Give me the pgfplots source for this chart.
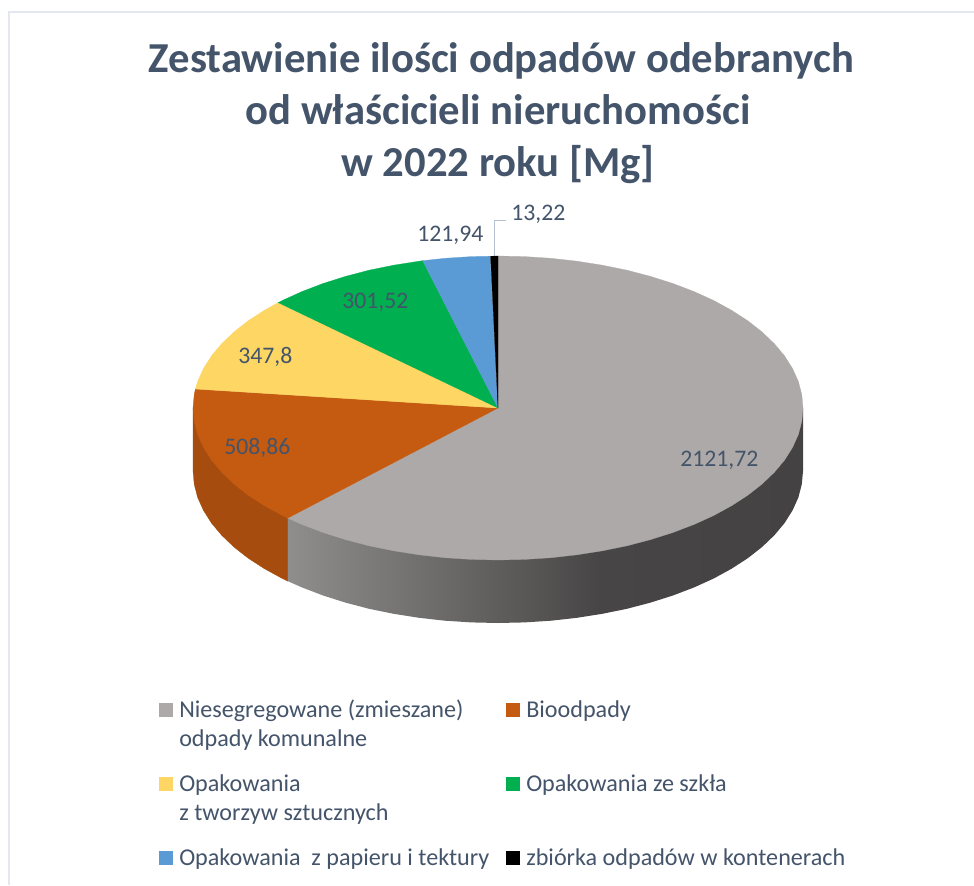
\documentclass[border=0pt]{standalone}
\usepackage{pgfplots}
\pgfplotsset{compat=1.18}
\usepackage{fontspec}
\setmainfont{Carlito}
\definecolor{txt}{HTML}{44546A}
\definecolor{cgrey}{HTML}{ADA9A8}
\definecolor{corange}{HTML}{C55A11}
\definecolor{corangew}{HTML}{A54C0E}
\definecolor{cyellow}{HTML}{FDD663}
\definecolor{cgreen}{HTML}{00B050}
\definecolor{cblue}{HTML}{5B9BD5}
\definecolor{frame}{HTML}{E4E8EE}
\definecolor{lead}{HTML}{B4C0D0}
\definecolor{gw1}{HTML}{8F8E8D}
\definecolor{gw2}{HTML}{5F5D5C}
\definecolor{gw3}{HTML}{484546}
\definecolor{gw4}{HTML}{454243}
\pgfdeclarehorizontalshading{greywall}{100bp}{color(0bp)=(gw1); color(25bp)=(gw1); color(45.6bp)=(gw2); color(55.3bp)=(gw3); color(75bp)=(gw4); color(100bp)=(gw4)}
\newcommand{\lab}[3]{\node[anchor=base west,inner sep=0pt,text=txt,font=\fontsize{17.8}{20}\selectfont] at (axis cs:#1,#2) {#3};}
\newcommand{\leg}[3]{\node[anchor=base west,inner sep=0pt,text=txt,font=\fontsize{18.1}{20}\selectfont] at (axis cs:#1,#2) {#3};}
\newcommand{\ttl}[3]{\node[anchor=base,inner sep=0pt,text=txt,font=\fontsize{32}{36}\selectfont\bfseries] at (axis cs:#1,#2) {#3};}
% values [Mg]: 2121,72; 508,86; 347,8; 301,52; 121,94; 13,22
\begin{document}
\begin{tikzpicture}
\begin{axis}[scale only axis,width=730.5pt,height=663.75pt,xmin=0,xmax=974,ymin=0,ymax=885,y dir=reverse,axis lines=none,clip=true]
\addplot[fill=white,draw=none,forget plot] coordinates {(0,0)(974,0)(974,885)(0,885)};
\addplot[draw=frame,line width=1.2pt,forget plot] coordinates {(974,12)(9,12)(9,885)};
% side walls
\addplot[draw=none,shading=greywall,forget plot] coordinates {(803,408)(803,471)(801.8,484.2)(798.4,497.4)(792.6,510.3)(784.6,523)(774.4,535.2)(762.1,547)(747.8,558.2)(731.6,568.7)(713.7,578.5)(694.1,587.4)(672.9,595.5)(650.5,602.6)(626.9,608.8)(602.3,613.8)(576.9,617.8)(551,620.7)(524.6,622.4)(498,623)(471.4,622.4)(445,620.7)(419.1,617.8)(393.7,613.8)(369.1,608.8)(345.5,602.6)(323.1,595.5)(301.9,587.4)(287.7,581.1)(287.7,518.1)};
\addplot[fill=corangew,draw=corangew,line width=.2pt,forget plot] coordinates {(287.7,518.1)(287.7,581.1)(282.3,578.5)(264.4,568.7)(248.2,558.2)(233.9,547)(221.6,535.2)(211.4,523)(203.4,510.3)(197.6,497.4)(194.2,484.2)(193,471)(193,408)};
% top surface
\addplot[fill=cgrey,draw=cgrey,line width=.2pt,forget plot] coordinates {(498,408)(498,256)(524.6,256.6)(551,258.3)(576.9,261.2)(602.3,265.2)(626.9,270.2)(650.5,276.4)(672.9,283.5)(694.1,291.6)(713.7,300.5)(731.6,310.3)(747.8,320.8)(762.1,332)(774.4,343.8)(784.6,356)(792.6,368.7)(798.4,381.6)(801.8,394.8)(803,408)(801.8,421.2)(798.4,434.4)(792.6,447.3)(784.6,460)(774.4,472.2)(762.1,484)(747.8,495.2)(731.6,505.7)(713.7,515.5)(694.1,524.4)(672.9,532.5)(650.5,539.6)(626.9,545.8)(602.3,550.8)(576.9,554.8)(551,557.7)(524.6,559.4)(498,560)(471.4,559.4)(445,557.7)(419.1,554.8)(393.7,550.8)(369.1,545.8)(345.5,539.6)(323.1,532.5)(301.9,524.4)(287.7,518.1)(498,408)};
\addplot[fill=corange,draw=corange,line width=.2pt,forget plot] coordinates {(498,408)(287.7,518.1)(282.3,515.5)(264.4,505.7)(248.2,495.2)(233.9,484)(221.6,472.2)(211.4,460)(203.4,447.3)(197.6,434.4)(194.2,421.2)(193,408)(194.2,394.8)(195.4,389)(498,408)};
\addplot[fill=cyellow,draw=cyellow,line width=.2pt,forget plot] coordinates {(498,408)(195.4,389)(197.6,381.6)(203.4,368.7)(211.4,356)(221.6,343.8)(233.9,332)(248.2,320.8)(264.4,310.3)(278.2,302.6)(498,408)};
\addplot[fill=cgreen,draw=cgreen,line width=.2pt,forget plot] coordinates {(498,408)(278.2,302.6)(282.3,300.5)(301.9,291.6)(323.1,283.5)(345.5,276.4)(369.1,270.2)(393.7,265.2)(419.1,261.2)(422.7,260.7)(498,408)};
\addplot[fill=cblue,draw=cblue,line width=.2pt,forget plot] coordinates {(498,408)(422.7,260.7)(445,258.3)(471.4,256.6)(490,256.2)(498,408)};
\addplot[fill=black,draw=black,line width=.2pt,forget plot] coordinates {(498,408)(490.5,256.2)(498,256)(498,408)};
% leader line
\addplot[draw=lead,line width=.8pt,forget plot] coordinates {(494.3,256)(494.3,220.7)(506,220.7)};
% legend keys
\addplot[fill=cgrey,draw=none,forget plot] coordinates {(159,703)(173,703)(173,717)(159,717)};
\addplot[fill=corange,draw=none,forget plot] coordinates {(506,703)(520,703)(520,717)(506,717)};
\addplot[fill=cyellow,draw=none,forget plot] coordinates {(159,777)(173,777)(173,791)(159,791)};
\addplot[fill=cgreen,draw=none,forget plot] coordinates {(506,777)(520,777)(520,791)(506,791)};
\addplot[fill=cblue,draw=none,forget plot] coordinates {(159,851)(173,851)(173,865)(159,865)};
\addplot[fill=black,draw=none,forget plot] coordinates {(506,851)(520,851)(520,865)(506,865)};
% title
\ttl{501.5}{72}{Zestawienie ilości odpadów odebranych}
\ttl{498}{124}{od właścicieli nieruchomości}
\ttl{498}{176}{w 2022 roku [Mg]}
% data labels
\lab{680}{466}{2121,72}
\lab{224}{454}{508,86}
\lab{238}{363}{347,8}
\lab{342}{308}{301,52}
\lab{417}{241}{121,94}
\lab{511}{220}{13,22}
% legend text
\leg{179}{717}{Niesegregowane (zmieszane)}
\leg{179}{746}{odpady komunalne}
\leg{526}{717}{Bioodpady}
\leg{179}{791}{Opakowania}
\leg{179}{820}{z tworzyw sztucznych}
\leg{526}{791}{Opakowania ze szkła}
\leg{179}{865}{Opakowania\ \ z papieru i tektury}
\leg{526}{865}{zbiórka odpadów w kontenerach}
\end{axis}
\end{tikzpicture}
\end{document}
